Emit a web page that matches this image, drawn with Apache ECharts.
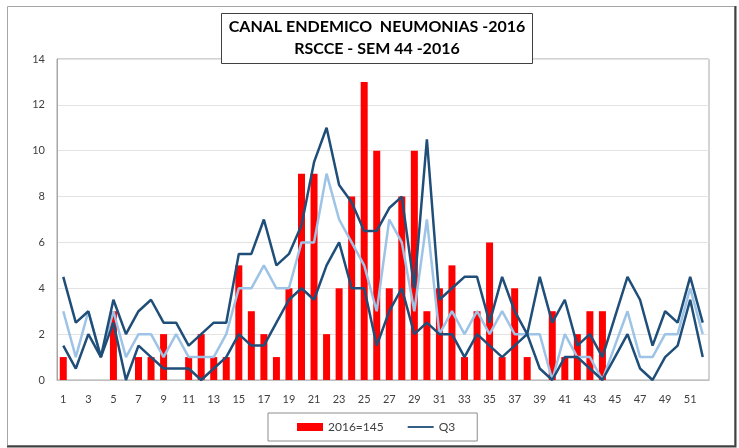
<!DOCTYPE html>
<html>
<head>
<meta charset="utf-8">
<script src="https://cdn.jsdelivr.net/npm/echarts@6/dist/echarts.min.js"></script>
<style>
  html, body { margin: 0; padding: 0; background: #fff; }
  #chart { width: 739px; height: 448px; }
</style>
</head>
<body>
<div id="chart"></div>
<script>
    'use strict';

    var semanas = [];
    for (var i = 1; i <= 52; i++) { semanas.push(String(i)); }

    // casos 2016 (hasta SE 44)
    var casos2016 = [1, 0, 0, 0, 3, 0, 1, 1, 2, 0,
        1, 2, 1, 1, 5, 3, 2, 1, 4, 9,
        9, 2, 4, 8, 13, 10, 4, 8, 10, 3,
        4, 5, 1, 3, 6, 1, 4, 1, 0, 3,
        1, 2, 3, 3, null, null, null, null, null, null, null, null];

    var q3 = [4.5, 2.5, 3, 1, 3.5, 2, 3, 3.5, 2.5, 2.5,
        1.5, 2, 2.5, 2.5, 5.5, 5.5, 7, 5, 5.5, 6.75,
        9.5, 11, 8.5, 7.75, 6.5, 6.5, 7.5, 8, 4, 10.5,
        3.5, 4, 4.5, 4.5, 2.5, 4.5, 3, 2, 4.5, 2.5,
        3.5, 1.5, 2, 1, 2.75, 4.5, 3.5, 1.5, 3, 2.5, 4.5, 2.5];

    var mediana = [3, 1, 3, 1, 3, 1, 2, 2, 1, 2,
        1, 1, 1, 2, 4, 4, 5, 4, 4, 6,
        6, 9, 7, 6, 5, 3, 7, 6, 3, 7,
        2, 3, 2, 3, 2, 3, 2, 2, 2, 0,
        2, 1, 1, 0, 1.5, 3, 1, 1, 2, 2, 4, 2];

    var q1 = [1.5, 0.5, 2, 1, 2.5, 0, 1.5, 1, 0.5, 0.5,
        0.5, 0, 0.5, 1, 2, 1.5, 1.5, 2.5, 3.5, 4,
        3.5, 5, 6, 4, 4, 1.5, 3, 4, 2, 2.5,
        2, 2, 1, 2, 1.5, 1, 1.5, 2, 0.5, 0,
        1, 1, 0.5, 0, 1, 2, 0.5, 0, 1, 1.5, 3.5, 1];

    var yTicks = [0, 2, 4, 6, 8, 10, 12, 14];

    var FONT = 'Lato, "Liberation Sans", sans-serif';
    var dark = '#1f4e79';
    var light = '#9dc3e6';
    // icono de leyenda: solo una linea
    var lineIcon = 'path://M0,0 M26,8 M0,3.1 L26,3.1 L26,4.9 L0,4.9 Z';

    var myChart = echarts.init(document.getElementById('chart'), null, {renderer: 'canvas'});
    var option = {
        backgroundColor: '#fff',
        animation: false,
        textStyle: { fontFamily: FONT },
        title: {
            text: 'CANAL ENDEMICO  NEUMONIAS -2016\nRSCCE - SEM 44 -2016',
            left: 370,
            top: 13,
            textAlign: 'center',
            padding: [3, 7, 4, 7],
            borderColor: '#404040',
            borderWidth: 1,
            backgroundColor: '#fff',
            textStyle: {
                fontFamily: FONT,
                fontSize: 16,
                fontWeight: 'bold',
                color: '#000',
                lineHeight: 22
            }
        },
        legend: {
            data: [
                { name: '2016=145', icon: 'rect' },
                { name: 'Q3', icon: lineIcon }
            ],
            left: 268,
            top: 413,
            padding: [8, 22, 8, 29],
            itemGap: 24,
            itemWidth: 26,
            itemHeight: 8,
            borderColor: '#8c8c8c',
            borderWidth: 1,
            textStyle: { fontFamily: FONT, fontSize: 12, color: '#404040' }
        },
        grid: {
            left: 57,
            right: 30,
            top: 59,
            bottom: 68,
            show: true,
            borderColor: '#a6a6a6',
            borderWidth: 1
        },
        xAxis: {
            type: 'category',
            data: semanas,
            boundaryGap: true,
            axisLine: { lineStyle: { color: '#bfbfbf' } },
            axisTick: { show: false },
            axisLabel: { interval: 1, color: '#404040', fontSize: 11, margin: 14, fontFamily: FONT }
        },
        yAxis: {
            type: 'value',
            min: yTicks[0],
            max: yTicks[yTicks.length - 1],
            interval: 2,
            axisLine: { show: true, lineStyle: { color: '#a6a6a6' } },
            axisTick: { show: false },
            axisLabel: { color: '#404040', fontSize: 11, margin: 12, fontFamily: FONT },
            splitLine: { lineStyle: { color: '#e3e3e3' } }
        },
        series: [
            {
                name: '2016=145',
                type: 'bar',
                data: casos2016,
                barWidth: 7,
                itemStyle: { color: '#ff0000' },
                z: 1
            },
            {
                name: 'Q1',
                type: 'line',
                data: q1,
                symbol: 'none',
                lineStyle: { color: dark, width: 2.5 },
                itemStyle: { color: dark },
                z: 3
            },
            {
                name: 'Mediana',
                type: 'line',
                data: mediana,
                symbol: 'none',
                lineStyle: { color: light, width: 2.5 },
                itemStyle: { color: light },
                z: 2
            },
            {
                name: 'Q3',
                type: 'line',
                data: q3,
                symbol: 'none',
                lineStyle: { color: dark, width: 2.5 },
                itemStyle: { color: dark },
                z: 3
            }
        ],
        graphic: [
            {
                type: 'rect',
                shape: { x: 7.5, y: 6.5, width: 727, height: 439 },
                style: { fill: null, stroke: '#a6a6a6', lineWidth: 1 },
                z: -1
            },
            {
                type: 'polyline',
                shape: { points: [[735.5, 6], [735.5, 446.5], [7, 446.5]] },
                style: { stroke: '#404040', lineWidth: 2, fill: null },
                z: -1
            }
        ]
    };
    myChart.setOption(option);
</script>
</body>
</html>
